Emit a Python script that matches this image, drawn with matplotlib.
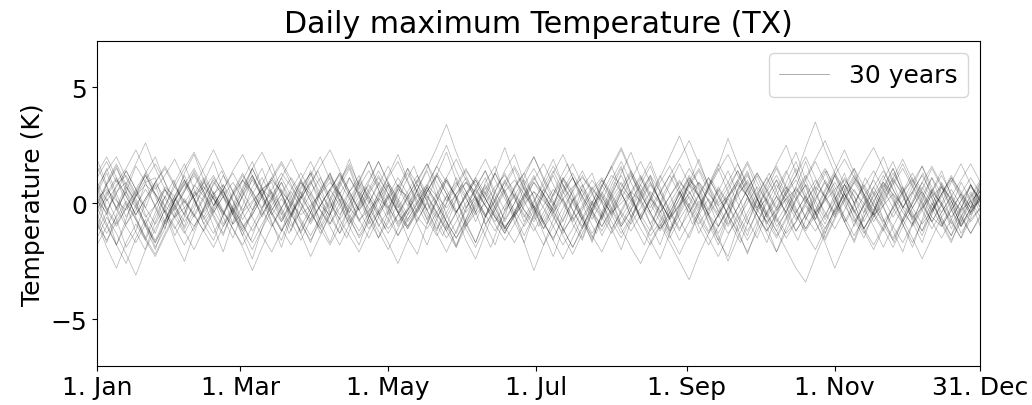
import numpy as np
import matplotlib
matplotlib.use("Agg")
import matplotlib.pyplot as plt

# Tick positions (day of year) and labels
tick_days = [0, 59, 120, 181, 243, 304, 364]
tick_labels = ["1. Jan", "1. Mar", "1. May", "1. Jul", "1. Sep", "1. Nov", "31. Dec"]
year_label = "30 years"

# Daily maximum temperature anomalies (K), sampled every 4 days, one list per year
y01 = [0.3, -0.5, 0.8, 1.2, 0.4, -0.2, 0.9, 1.5, 0.7, 0.1, -0.6, 0.2, 1.1, 0.5, -0.3, -1.1, -0.4, 0.6, 0.2, -0.8, -0.1, 0.7, 1.3,
       0.4, -0.2, 0.5, -0.7, -1.4, -0.6, 0.3, 0.9, 0.2, -0.5, 0.1, 0.8, 1.6, 0.9, 0.3, -0.4, 0.2, -0.9, -0.3, 0.5, 1.0, 0.4, -0.2,
       -0.9, -1.5, -0.7, 0.1, 0.6, -0.1, 0.4, 1.2, 0.8, 0.2, -0.5, -1.2, -0.4, 0.3, 0.9, 0.5, -0.2, 0.6, 1.4, 2.1, 1.2, 0.5, -0.3,
       0.2, -0.6, -1.3, -0.8, 0.1, 0.7, 0.3, -0.4, 0.4, 1.1, 0.6, -0.1, -0.8, -0.2, 0.5, 1.0, 0.3, -0.6, -1.0, -0.3, 0.4, -0.2, 0.1]
y02 = [-1.2, -0.4, -1.8, -2.6, -1.5, -0.7, -1.9, -1.1, 0.2, -0.5, 0.8, 0.3, -0.6, -1.4, -0.2, 0.7, 1.5, 0.6, -0.3, 0.4, -0.8, -1.6, -0.7,
       0.5, 1.3, 0.4, -0.4, 0.9, 1.8, 0.8, -0.1, -1.0, -0.3, 0.6, -0.5, -1.3, -2.1, -1.2, -0.2, 0.6, 1.4, 0.5, -0.3, 0.3, 1.1, 2.0,
       1.0, 0.1, -0.8, 0.2, -0.6, -1.5, -0.5, 0.4, 1.2, 0.3, -0.7, -1.6, -2.4, -1.3, -0.4, 0.5, -0.3, 0.8, 1.7, 0.9, 0.0, -0.9, 0.1,
       0.9, 1.6, 0.7, -0.2, -1.1, -0.4, 0.5, 1.3, 0.6, -0.4, -1.2, -2.0, -1.1, -0.1, 0.7, -0.2, 0.6, 1.5, 0.7, -0.3, -1.0, -0.4, 0.3]
y03 = [1.1, 1.8, 0.9, 1.5, 2.3, 1.4, 0.6, 1.2, 1.9, 1.0, 0.3, 0.9, 0.2, -0.5, 0.4, 1.0, 0.5, -0.2, 0.6, 1.3, 0.7, 0.0, -0.7,
       -0.1, 0.6, 1.2, 0.4, -0.3, 0.3, -0.4, -1.1, -0.5, 0.2, 0.8, 0.1, -0.6, 0.0, 0.7, 1.4, 0.8, 0.2, -0.5, -1.2, -0.6, 0.1, 0.9,
       0.4, -0.3, 0.5, 1.1, 0.3, -0.4, -1.0, -0.2, 0.6, 0.1, -0.7, -1.4, -0.8, 0.0, 0.7, 1.5, 0.8, 0.1, -0.6, 0.2, 0.9, 0.3, -0.5,
       -1.2, -0.4, 0.4, 1.0, 0.2, -0.5, 0.3, 1.2, 1.9, 1.1, 0.4, -0.3, 0.5, 1.3, 0.6, -0.2, -0.9, -0.3, 0.4, 1.1, 0.5, -0.2, 0.6]
y04 = [-0.8, -1.9, -2.8, -1.7, -0.9, -1.6, -0.6, 0.3, -0.4, -1.2, -2.0, -1.1, -0.3, 0.5, -0.2, -1.0, -0.5, 0.3, 1.1, 0.4, -0.4, -1.3, -2.3,
       -1.4, -0.5, 0.2, -0.6, -1.5, -0.8, 0.1, 0.8, 0.0, -0.8, -0.2, 0.6, -0.1, -1.0, -1.8, -0.9, 0.0, 0.7, -0.2, -1.1, -0.4, 0.4, 1.2,
       0.3, -0.5, -1.4, -2.2, -1.3, -0.4, 0.3, -0.5, -1.3, -0.6, 0.2, 0.9, 0.1, -0.7, -1.6, -0.8, 0.1, -0.6, -1.4, -2.5, -1.5, -0.6, 0.2,
       -0.5, -1.2, -0.3, 0.5, 1.2, 0.4, -0.4, -1.1, -0.3, 0.6, -0.2, -1.0, -1.9, -1.0, -0.2, 0.5, -0.3, -1.1, -0.4, 0.3, -0.5, -1.3, -0.6]
y05 = [0.2, 0.6, 0.1, -0.3, 0.3, 0.8, 0.4, -0.1, -0.6, -0.2, 0.3, 0.7, 0.2, -0.4, -0.9, -0.4, 0.1, 0.6, 1.0, 0.5, 0.0, -0.5, -0.1,
       0.4, 0.9, 0.4, -0.2, -0.7, -0.3, 0.2, -0.2, -0.8, -0.3, 0.3, 0.8, 0.3, -0.2, 0.4, 0.9, 0.5, -0.1, -0.6, -1.0, -0.5, 0.0, 0.5,
       0.1, -0.4, 0.2, 0.7, 1.1, 0.6, 0.1, -0.4, 0.0, 0.5, 0.1, -0.5, -1.1, -0.6, -0.1, 0.4, 0.9, 0.4, -0.1, 0.3, 0.8, 0.3, -0.3,
       -0.8, -0.3, 0.2, 0.6, 0.1, -0.4, 0.1, 0.6, 1.0, 0.5, 0.0, -0.5, -0.1, 0.4, -0.1, -0.6, -0.2, 0.3, 0.7, 0.2, -0.3, 0.1, 0.5]
y06 = [1.6, 0.7, -0.2, 0.8, 1.7, 2.6, 1.5, 0.6, -0.3, 0.5, 1.4, 0.5, -0.5, -1.3, -0.4, 0.6, 1.5, 2.2, 1.3, 0.4, -0.5, 0.3, 1.2,
       2.0, 1.0, 0.1, -0.8, 0.0, 0.9, 1.8, 0.8, -0.1, -1.0, -0.2, 0.7, 1.6, 2.5, 1.4, 0.5, -0.4, 0.4, 1.3, 0.4, -0.5, -1.4, -0.5,
       0.4, 1.3, 2.1, 1.1, 0.2, -0.7, 0.1, 1.0, 1.8, 0.9, 0.0, -0.9, -0.1, 0.8, 1.7, 0.8, -0.1, 0.7, 1.6, 2.8, 1.7, 0.7, -0.2,
       0.6, 1.5, 0.6, -0.3, -1.1, -0.3, 0.6, 1.4, 2.3, 1.3, 0.4, -0.5, 0.3, 1.1, 1.9, 1.0, 0.1, -0.8, 0.0, 0.9, 1.7, 0.8, 0.0]
y07 = [-0.5, -1.3, -0.6, 0.1, -0.7, -1.6, -2.3, -1.4, -0.6, 0.1, -0.5, -1.2, -0.4, 0.3, 0.9, 0.2, -0.6, -1.4, -2.1, -1.2, -0.4, 0.3, -0.4,
       -1.1, -1.8, -1.0, -0.2, 0.5, -0.2, -0.9, -1.7, -2.6, -1.6, -0.7, 0.0, -0.7, -1.5, -0.8, 0.0, 0.6, -0.1, -0.9, -1.6, -0.9, -0.1, 0.5,
       -0.2, -1.0, -1.8, -1.1, -0.3, 0.4, 1.0, 0.3, -0.5, -1.2, -0.5, 0.2, -0.6, -1.4, -2.2, -1.3, -0.5, 0.2, -0.5, -1.3, -0.7, 0.0, 0.7,
       0.1, -0.7, -1.5, -0.8, -0.1, -0.8, -1.7, -2.8, -1.8, -0.9, -0.1, 0.5, -0.2, -1.0, -1.7, -0.9, -0.1, 0.6, -0.1, -0.8, -1.5, -0.7, -0.2]
y08 = [-0.1, 0.9, 1.7, 0.8, 0.0, -0.9, -1.7, -0.8, 0.1, 0.9, 0.2, -0.6, 0.3, 1.2, 0.5, -0.4, -1.2, -0.5, 0.3, 1.1, 1.9, 1.0, 0.1,
       -0.7, 0.1, 0.9, 0.2, -0.7, -1.5, -0.6, 0.3, 1.1, 0.4, -0.4, 0.5, 1.3, 0.6, -0.3, -1.1, -1.9, -1.0, -0.1, 0.7, 1.5, 0.6, -0.2,
       0.6, 1.4, 0.5, -0.3, -1.0, -0.2, 0.7, 1.6, 2.4, 1.4, 0.5, -0.4, -1.2, -0.4, 0.4, 1.2, 0.4, -0.5, -1.3, -0.5, 0.3, 1.0, 0.2,
       -0.6, -1.4, -0.6, 0.2, 1.0, 1.8, 0.9, 0.0, -0.8, 0.0, 0.8, 0.1, -0.7, -1.5, -0.7, 0.1, 0.9, 1.6, 0.8, -0.1, -0.9, -0.3, 0.4]
y09 = [0.5, -0.3, -1.0, -0.2, 0.6, 1.3, 0.4, -0.4, 0.3, 1.0, 0.2, -0.6, -1.3, -0.5, 0.3, 1.0, 0.3, -0.5, 0.2, 0.9, 0.1, -0.7, -1.4,
       -0.6, 0.2, 1.0, 1.7, 0.8, 0.0, 0.8, 1.6, 0.7, -0.1, 0.6, 1.5, 2.4, 3.4, 2.2, 1.2, 0.3, -0.5, 0.2, 1.0, 0.3, -0.5, -1.2,
       -0.4, 0.4, 1.1, 0.3, -0.5, -1.3, -0.6, 0.2, 0.9, 0.2, -0.6, 0.1, 0.9, 1.6, 0.7, -0.1, -0.9, -0.2, 0.6, -0.1, -0.8, -1.6, -0.8,
       0.0, 0.8, 0.1, -0.7, 0.0, 0.8, 1.5, 0.7, -0.1, -0.8, -0.1, 0.7, 1.4, 0.6, -0.2, -1.0, -0.3, 0.5, 1.2, 0.4, -0.4, 0.3, 1.0]
y10 = [-1.5, -0.6, -1.3, -2.2, -3.1, -2.0, -1.1, -0.3, -1.0, -1.8, -1.0, -0.2, 0.5, -0.3, -1.1, -1.9, -2.9, -1.9, -1.0, -0.2, 0.5, -0.2, -0.9,
       -0.1, 0.6, 1.3, 0.5, -0.3, -1.1, -0.4, 0.4, -0.3, -1.0, -0.3, 0.5, 1.2, 0.4, -0.4, 0.3, 1.0, 0.2, -0.6, -1.3, -0.5, 0.3, 1.1,
       0.4, -0.4, -1.1, -1.9, -1.0, -0.2, 0.5, -0.2, -1.0, -0.3, 0.5, 1.2, 0.5, -0.3, -1.1, -0.4, 0.4, 1.1, 0.3, -0.5, -1.3, -2.1, -1.2,
       -0.4, 0.3, -0.4, -1.2, -0.5, 0.2, 0.9, 0.2, -0.6, -1.4, -0.6, 0.1, 0.8, 0.1, -0.7, -1.5, -2.4, -1.5, -0.6, 0.1, -0.6, -1.3, -0.5]
y11 = [0.9, 0.1, 0.7, 1.4, 0.6, -0.2, -0.9, -0.1, 0.7, 1.5, 2.2, 1.3, 0.4, -0.4, 0.4, 1.2, 0.5, -0.3, -1.0, -0.2, 0.6, 1.3, 0.5,
       -0.3, -1.0, -1.8, -0.9, -0.1, 0.6, 1.4, 0.6, -0.2, 0.5, 1.2, 0.4, -0.4, -1.1, -0.4, 0.4, 1.1, 1.9, 1.0, 0.2, -0.6, 0.2, 0.9,
       0.2, -0.6, -1.3, -0.5, 0.3, 1.0, 0.3, -0.5, 0.2, 1.0, 1.8, 0.9, 0.1, -0.7, -0.1, 0.7, 1.4, 0.5, -0.3, -1.0, -0.2, 0.6, 1.3,
       0.6, -0.2, 0.5, 1.2, 2.0, 1.1, 0.2, -0.6, 0.2, 1.0, 0.3, -0.5, -1.2, -0.4, 0.4, 1.1, 0.4, -0.4, 0.3, 1.0, 0.2, -0.5, 0.2]
y12 = [-0.3, 0.5, -0.2, -1.0, -1.7, -0.9, -0.1, 0.6, -0.1, -0.8, -0.1, 0.6, 1.2, 0.4, -0.4, 0.3, 1.0, 0.3, -0.5, -1.2, -0.5, 0.2, 0.9,
       0.2, -0.6, -1.3, -0.6, 0.1, 0.8, 0.1, -0.7, -1.4, -0.7, 0.0, 0.7, 0.0, -0.8, -1.5, -0.8, -0.1, 0.6, 1.3, 0.5, -0.3, -1.0, -0.3,
       0.4, -0.3, -1.1, -1.9, -1.1, -0.3, 0.4, -0.3, -1.1, -1.9, -2.6, -1.7, -0.9, -1.7, -2.5, -3.3, -2.2, -1.3, -0.5, 0.2, -0.5, -1.2, -0.4,
       0.3, 1.0, 0.3, -0.5, -1.2, -0.5, 0.2, 0.9, 0.2, -0.6, -1.3, -0.6, 0.1, 0.8, 1.5, 0.7, -0.1, -0.8, -0.1, 0.6, -0.1, -0.8, -0.2]
y13 = [1.3, 2.0, 1.1, 0.3, -0.5, 0.2, 0.9, 1.6, 0.8, 0.0, 0.7, 1.5, 2.3, 1.4, 0.5, -0.3, 0.4, 1.1, 0.3, -0.5, 0.3, 1.0, 1.8,
       0.9, 0.1, -0.7, 0.0, 0.7, 1.4, 0.6, -0.2, 0.6, 1.3, 0.5, -0.3, 0.4, 1.1, 1.9, 1.0, 0.2, -0.6, 0.1, 0.9, 0.2, -0.6, 0.1,
       0.8, 1.6, 0.8, 0.0, -0.7, 0.0, 0.8, 1.5, 2.3, 1.3, 0.4, -0.4, 0.4, 1.2, 0.4, -0.4, 0.3, 1.1, 0.3, -0.5, -1.2, -0.4, 0.4,
       1.1, 0.3, -0.4, 0.4, 1.1, 1.9, 2.7, 1.7, 0.8, 0.0, 0.7, 1.4, 0.6, -0.2, 0.5, 1.3, 0.5, -0.3, 0.4, 1.2, 0.4, -0.4, 0.3]
y14 = [-0.9, -1.6, -0.8, 0.0, -0.7, -1.5, -2.2, -1.3, -0.5, 0.2, -0.5, -1.2, -1.9, -1.0, -0.2, -0.9, -1.7, -0.9, -0.1, 0.6, -0.1, -0.9, -1.6,
       -0.8, 0.0, -0.7, -1.4, -2.1, -1.2, -0.4, 0.3, -0.4, -1.1, -0.4, 0.3, -0.4, -1.2, -1.9, -1.0, -0.2, 0.5, -0.2, -1.0, -1.7, -0.9, -0.1,
       -0.8, -1.6, -2.4, -1.5, -0.6, 0.1, -0.6, -1.3, -0.6, 0.1, 0.8, 0.0, -0.8, -1.5, -0.7, 0.0, -0.7, -1.5, -2.3, -1.4, -0.5, 0.2, -0.5,
       -1.2, -0.5, 0.2, -0.5, -1.3, -2.0, -1.1, -0.3, 0.4, -0.3, -1.1, -1.8, -1.0, -0.2, -0.9, -1.7, -0.8, 0.0, -0.7, -1.4, -0.6, 0.1, -0.6]
y15 = [0.0, 0.8, 1.5, 0.7, -0.1, -0.9, -1.6, -0.7, 0.1, 0.8, 0.1, -0.7, -0.1, 0.6, 1.4, 2.1, 1.2, 0.3, -0.5, 0.2, -0.5, -1.2, -0.4,
       0.4, 1.1, 0.3, -0.5, -1.2, -0.4, 0.4, 1.1, 1.8, 0.9, 0.1, -0.7, -1.4, -0.6, 0.2, 0.9, 0.2, -0.6, 0.1, 0.9, 1.6, 0.8, -0.1,
       -0.8, 0.0, 0.8, 0.1, -0.7, -1.4, -2.1, -1.2, -0.3, 0.5, 1.2, 0.4, -0.4, 0.3, 1.0, 0.2, -0.6, -1.3, -0.5, 0.3, 1.0, 1.8, 0.9,
       0.0, -0.8, -0.1, 0.7, 0.0, -0.8, -1.6, -0.7, 0.1, 0.9, 0.2, -0.6, 0.2, 0.9, 1.7, 0.8, 0.0, -0.8, -1.5, -0.7, 0.1, 0.8, 0.1]
y16 = [-0.4, 0.3, 1.0, 0.3, -0.5, 0.2, 0.9, 0.2, -0.6, -1.3, -0.5, 0.3, 1.0, 0.3, -0.5, -1.2, -0.5, 0.3, 1.0, 1.7, 0.8, 0.0, -0.8,
       -0.1, 0.6, -0.1, -0.9, -0.2, 0.5, 1.2, 0.4, -0.4, -1.1, -0.3, 0.5, 1.2, 0.4, -0.4, 0.3, 1.0, 0.2, -0.6, -1.3, -0.5, 0.3, 1.0,
       1.7, 0.8, 0.0, -0.8, -0.1, 0.7, 0.0, -0.8, -1.5, -0.7, 0.1, 0.8, 0.1, -0.7, 0.0, 0.8, 1.5, 0.7, -0.1, -0.9, -0.2, 0.6, 1.3,
       0.5, -0.3, 0.4, 1.2, 2.4, 3.5, 2.3, 1.3, 0.4, -0.4, 0.3, 1.0, 0.2, -0.6, 0.1, 0.9, 1.6, 0.7, -0.1, -0.9, -0.2, 0.5, -0.2]
y17 = [0.6, -0.2, -0.9, -0.2, 0.5, 1.2, 0.4, -0.4, -1.1, -0.4, 0.4, 1.1, 0.4, -0.4, -1.1, -1.8, -1.0, -0.2, 0.5, -0.2, -1.0, -0.3, 0.4,
       1.1, 0.3, -0.5, 0.2, 0.9, 0.2, -0.6, -1.3, -0.5, 0.3, 1.0, 0.3, -0.5, -1.2, -0.4, 0.4, 1.1, 0.4, -0.4, -1.1, -0.4, 0.4, -0.3,
       -1.1, -0.4, 0.4, 1.1, 0.3, -0.5, -1.2, -0.4, 0.4, -0.3, -1.1, -1.8, -1.0, -0.2, 0.5, -0.2, -1.0, -1.8, -1.0, -0.2, 0.5, 1.2, 0.4,
       -0.4, -1.2, -2.0, -2.8, -3.4, -2.3, -1.3, -0.4, 0.4, -0.3, -1.1, -0.4, 0.4, 1.1, 0.3, -0.5, -1.2, -0.4, 0.4, 1.1, 0.3, -0.4, 0.2]
y18 = [-1.8, -1.0, -0.2, 0.5, -0.2, -1.0, -1.7, -0.9, -0.1, 0.6, 1.3, 0.5, -0.3, -1.0, -0.3, 0.5, 1.2, 0.4, -0.4, -1.1, -1.8, -1.0, -0.2,
       0.5, 1.2, 0.4, -0.4, 0.3, 1.0, 1.8, 0.9, 0.1, -0.7, 0.0, 0.7, 0.0, -0.8, -1.5, -0.7, 0.1, 0.8, 0.1, -0.7, 0.0, 0.8, 1.5,
       0.7, -0.1, 0.6, 1.3, 0.5, -0.3, -1.0, -0.3, 0.5, 1.2, 0.4, -0.4, -1.1, -0.4, 0.4, 1.1, 0.3, -0.5, 0.2, 0.9, 1.7, 0.8, 0.0,
       -0.8, -1.5, -0.7, 0.1, 0.8, 0.1, -0.7, 0.0, 0.8, 1.5, 0.7, -0.1, -0.9, -1.6, -0.8, 0.0, 0.7, 0.0, -0.8, -1.6, -0.8, 0.0, 0.7]
y19 = [0.7, 1.4, 2.0, 1.1, 0.3, 1.0, 1.7, 0.9, 0.1, 0.8, 1.5, 0.7, -0.1, 0.6, 1.3, 0.5, -0.3, 0.4, 1.1, 1.8, 1.0, 0.2, 0.9,
       1.6, 2.3, 1.4, 0.5, -0.3, 0.4, 1.1, 0.4, -0.4, 0.3, 1.0, 1.7, 0.9, 0.1, 0.8, 1.5, 0.7, -0.1, -0.8, -0.1, 0.6, 1.3, 2.0,
       1.1, 0.3, 1.0, 1.7, 0.8, 0.0, -0.7, 0.0, 0.7, 1.4, 0.6, -0.2, 0.5, 1.2, 1.9, 2.7, 1.7, 0.8, 0.0, 0.7, 1.4, 0.6, -0.2,
       0.5, 1.2, 0.4, -0.4, 0.3, 1.0, 0.3, -0.5, 0.2, 0.9, 1.7, 2.4, 1.5, 0.6, -0.2, 0.5, 1.2, 0.4, -0.4, 0.3, 1.0, 1.7, 0.9]
y20 = [-0.2, -1.0, -1.8, -0.9, -0.1, 0.6, -0.1, -0.9, -0.2, 0.5, 1.2, 0.4, -0.4, 0.3, -0.4, -1.2, -2.0, -1.1, -0.3, 0.4, 1.1, 0.4, -0.4,
       -1.1, -0.4, 0.4, 1.1, 0.3, -0.5, -1.2, -2.0, -1.1, -0.3, 0.4, -0.3, -1.1, -0.4, 0.4, 1.1, 0.3, -0.5, -1.2, -0.4, 0.4, -0.3, -1.0,
       -1.8, -1.0, -0.2, 0.5, 1.2, 0.4, -0.4, -1.1, -0.4, 0.4, 1.1, 0.3, -0.5, -1.2, -0.5, 0.3, -0.4, -1.2, -0.5, 0.3, 1.0, 0.3, -0.5,
       -1.3, -2.1, -1.2, -0.4, 0.3, -0.4, -1.1, -0.3, 0.5, 1.2, 0.4, -0.4, -1.1, -1.9, -1.0, -0.2, 0.5, -0.2, -1.0, -0.3, 0.4, 1.1, 0.4]
y21 = [0.4, 1.3, 0.2, -0.9, -0.3, 0.9, 1.1, -0.2, -1.4, -0.6, 0.5, 0.1, -1.0, -2.1, -0.8, 0.4, 1.5, 0.6, 0.9, -0.3, -1.2, 0.2, 1.0,
       -0.1, -0.5, 0.8, 1.9, 0.7, -0.4, -1.5, -0.7, 0.6, 0.3, -0.8, 0.1, 1.2, 2.2, 1.0, -0.2, 0.3, -0.9, -1.8, -0.6, 0.7, 1.3, 0.2,
       -0.9, -0.2, 1.1, 0.5, -0.6, -1.7, -0.4, 0.8, 1.6, 0.4, -0.7, 0.2, -0.3, -1.3, -0.1, 1.0, 0.6, -0.5, -1.6, -2.3, -1.0, 0.3, 1.2,
       0.1, -1.0, -0.4, 0.7, 1.8, 0.6, -0.6, 0.4, 1.3, 0.0, -1.1, -0.3, 0.9, 0.2, -0.9, -1.9, -0.7, 0.5, 1.4, 0.3, -0.8, 0.2, 0.9]
y22 = [-1.1, 0.2, -0.7, -1.9, -1.2, 0.1, 0.8, -0.4, -1.6, -2.5, -1.3, -0.2, 0.9, 0.3, -0.9, -0.1, 1.1, 0.4, -0.8, -1.9, -0.6, 0.5, -0.2,
       -1.3, -0.5, 0.7, 1.5, 0.3, -0.9, -0.3, 0.8, -0.4, -1.5, -2.2, -0.9, 0.3, 1.1, 0.2, -1.0, -0.4, 0.9, 1.6, 0.4, -0.8, -1.7, -0.5,
       0.6, 0.0, -1.2, -0.6, 0.7, 1.3, 0.1, -1.1, -2.0, -0.8, 0.4, 1.2, 0.0, -1.2, -0.3, 0.9, 0.3, -0.9, -1.8, -0.7, 0.6, 1.4, 0.2,
       -1.0, -2.1, -1.0, 0.2, 0.8, -0.4, -1.5, -0.6, 0.6, 1.5, 0.3, -0.8, -0.1, 1.0, 0.4, -0.8, -1.7, -0.5, 0.7, -0.2, -1.3, -0.6, 0.4]
y23 = [1.9, 0.8, -0.3, 0.5, 1.6, 0.9, -0.2, -1.1, 0.1, 1.3, 2.1, 1.0, -0.1, 0.6, -0.5, -1.4, -0.3, 0.8, 1.7, 0.5, -0.6, 0.3, 1.4,
       0.7, -0.4, -1.3, -0.1, 1.0, 1.8, 0.6, -0.5, 0.4, 1.5, 0.8, -0.3, -1.2, 0.0, 1.1, 0.3, -0.8, 0.2, 1.3, 2.4, 1.2, 0.1, -0.7,
       0.4, 1.2, 0.2, -0.9, -1.6, -0.4, 0.7, 1.6, 0.5, -0.6, 0.3, 1.1, 0.0, -1.1, -0.2, 0.9, 1.9, 0.7, -0.4, 0.5, 1.4, 0.3, -0.8,
       -1.7, -0.5, 0.6, 1.5, 0.4, -0.7, 0.2, 1.2, 0.1, -1.0, 0.0, 1.1, 2.0, 0.9, -0.2, 0.7, 1.6, 0.5, -0.6, -1.4, -0.2, 0.8, 0.1]
y24 = [-0.6, -1.7, -0.5, 0.7, 0.1, -1.0, -2.0, -0.8, 0.3, 1.2, 0.2, -0.9, -0.2, 0.8, -0.3, -1.4, -2.4, -1.1, 0.1, 0.9, -0.2, -1.3, -0.4,
       0.6, 1.3, 0.1, -1.0, -1.8, -0.6, 0.5, -0.3, -1.4, -0.5, 0.6, 1.4, 0.3, -0.8, -1.9, -0.7, 0.4, 1.1, 0.0, -1.1, -0.4, 0.7, -0.2,
       -1.3, -2.3, -1.1, 0.1, 0.8, -0.3, -1.4, -0.6, 0.5, 1.3, 0.2, -0.9, -1.8, -0.6, 0.5, -0.2, -1.3, -0.4, 0.7, 0.0, -1.1, -2.2, -1.0,
       0.2, 1.0, -0.1, -1.2, -0.5, 0.6, 1.4, 0.3, -0.8, -1.6, -0.4, 0.7, -0.1, -1.2, -2.1, -0.9, 0.3, 1.1, 0.0, -1.1, -0.3, 0.8, -0.2]
y25 = [0.1, -0.4, 0.5, 0.9, 0.2, -0.6, -0.1, 0.7, 0.3, -0.5, -1.0, -0.3, 0.4, 0.8, 0.1, -0.7, 0.0, 0.6, -0.2, -0.8, 0.1, 0.9, 0.4,
       -0.3, -0.9, -0.2, 0.5, 1.0, 0.3, -0.5, 0.2, 0.8, 0.1, -0.6, -1.1, -0.4, 0.3, 0.9, 0.2, -0.5, 0.0, 0.7, 1.2, 0.5, -0.3, -0.8,
       -0.1, 0.6, 0.1, -0.7, -0.2, 0.6, 1.1, 0.4, -0.4, -0.9, -0.2, 0.5, 0.0, -0.6, 0.2, 0.8, 0.3, -0.5, -1.0, -0.3, 0.4, 0.9, 0.2,
       -0.6, 0.1, 0.7, 0.2, -0.6, -1.2, -0.5, 0.2, 0.8, 0.3, -0.4, 0.3, 0.9, 0.4, -0.4, -0.9, -0.2, 0.5, 0.0, -0.6, 0.1, 0.7, 0.2]
y26 = [0.8, -0.3, 0.4, 1.4, 0.6, -0.5, -1.3, -0.2, 0.9, 1.7, 0.6, -0.4, 0.3, -0.6, -1.5, -0.4, 0.7, 1.5, 0.4, -0.7, 0.0, 1.0, 0.3,
       -0.8, -1.7, -0.6, 0.5, 1.2, 0.1, -1.0, -0.3, 0.8, 0.2, -0.9, -1.8, -0.7, 0.3, -0.5, -1.6, -2.4, -1.3, -0.2, 0.6, -0.5, -1.7, -2.9,
       -1.8, -0.7, 0.2, -0.6, -1.5, -0.3, 0.8, 0.1, -1.0, -0.3, 0.8, 1.6, 0.5, -0.6, 0.2, 1.1, 0.3, -0.8, -1.6, -0.5, 0.6, 1.3, 0.2,
       -0.9, -0.2, 0.9, 1.8, 0.7, -0.4, -1.3, -0.2, 0.8, 0.0, -1.1, -0.4, 0.7, 1.5, 0.4, -0.7, 0.1, 1.1, 0.4, -0.7, -1.5, -0.4, 0.6]
y27 = [-0.3, 0.8, 1.6, 0.5, -0.6, -1.5, -0.4, 0.6, 0.0, -1.1, -0.3, 0.9, 1.8, 0.6, -0.5, 0.3, 1.2, 0.2, -0.9, -1.6, -0.5, 0.6, 1.3,
       0.2, -0.9, 0.0, 1.1, 0.4, -0.7, -1.5, -0.4, 0.7, 1.5, 0.4, -0.7, 0.1, 1.0, 0.3, -0.8, -1.7, -0.6, 0.5, 1.4, 2.1, 0.9, -0.2,
       -1.1, -0.1, 1.0, 0.3, -0.8, -1.6, -0.5, 0.6, 1.5, 0.4, -0.7, 0.2, 1.2, 0.4, -0.7, -1.5, -0.4, 0.7, 1.5, 0.5, -0.6, -1.4, -0.3,
       0.8, 1.7, 2.5, 1.3, 0.2, -0.7, 0.3, 1.2, 0.4, -0.7, -1.5, -0.4, 0.6, 1.5, 0.5, -0.6, -1.4, -0.3, 0.8, 0.1, -1.0, -0.2, 0.9]
y28 = [0.2, -0.9, -1.8, -0.7, 0.4, 1.2, 0.3, -0.8, 0.1, 1.0, 0.2, -0.9, -1.6, -0.5, 0.5, 1.3, 0.4, -0.6, 0.2, 1.1, 0.3, -0.8, -1.7,
       -0.6, 0.5, 1.3, 0.3, -0.8, 0.0, 0.9, 0.2, -0.9, -0.2, 0.9, 1.7, 0.6, -0.5, -1.3, -0.3, 0.7, 1.4, 0.3, -0.8, 0.0, 1.0, 0.3,
       -0.8, -1.6, -0.5, 0.6, 1.4, 0.5, -0.6, 0.3, 1.3, 2.2, 1.1, 0.2, 1.1, 2.0, 2.9, 1.8, 0.7, -0.3, 0.5, 1.4, 0.4, -0.7, -1.5,
       -0.4, 0.6, 1.4, 0.4, -0.7, 0.1, 1.0, 0.3, -0.8, -1.7, -0.6, 0.4, 1.2, 0.3, -0.8, 0.0, 0.9, 0.2, -0.9, -1.7, -0.6, 0.4, -0.4]
y29 = [-0.7, 0.4, 1.1, 0.0, -1.2, -2.0, -0.9, 0.2, 1.0, -0.1, -1.2, -0.4, 0.7, 1.4, 0.3, -0.8, -1.6, -0.5, 0.6, -0.2, -1.3, -0.5, 0.6,
       1.4, 0.4, -0.7, -1.5, -0.4, 0.7, 0.0, -1.1, -0.3, 0.8, 1.6, 0.5, -0.6, -1.4, -0.3, 0.8, 0.1, -1.0, -1.9, -0.8, 0.3, 1.1, 0.1,
       -1.0, -0.2, 0.9, 1.7, 0.6, -0.5, -1.3, -0.2, 0.9, 0.1, -1.0, -1.8, -0.7, 0.4, 1.2, 0.2, -0.9, -0.1, 1.0, 0.2, -0.9, -1.7, -0.6,
       0.5, 1.3, 0.3, -0.8, -1.6, -0.5, 0.6, 1.4, 0.3, -0.8, 0.0, 1.1, 0.3, -0.8, -1.7, -0.6, 0.5, 1.3, 0.2, -0.9, -0.1, 0.9, 0.1, -1.0]
y30 = [0.5, 1.5, 0.4, -0.6, 0.3, 1.3, 2.0, 0.9, -0.2, -1.0, 0.1, 1.0, 0.2, -0.9, -0.1, 1.0, 1.8, 0.7, -0.4, -1.2, -0.1, 0.9, 0.1,
       -1.0, -0.2, 0.9, 1.6, 0.5, -0.6, 0.2, 1.2, 2.1, 1.0, -0.1, -0.9, 0.1, 1.0, 0.2, -0.9, -1.7, -0.6, 0.5, 1.3, 0.3, -0.8, 0.0,
       1.0, 1.9, 0.8, -0.3, -1.1, 0.0, 1.0, 0.2, -0.9, -0.1, 1.0, 1.8, 0.7, -0.4, -1.2, -0.1, 0.9, 0.1, -1.0, -0.2, 0.9, 1.7, 0.6,
       -0.5, 0.3, 1.3, 2.2, 1.0, -0.1, -0.9, 0.1, 1.1, 0.3, -0.8, 0.0, 1.0, 1.8, 0.7, -0.4, -1.2, -0.1, 0.9, 0.1, -1.0, -0.2, 0.8]

years = [y01, y02, y03, y04, y05, y06, y07, y08, y09, y10,
         y11, y12, y13, y14, y15, y16, y17, y18, y19, y20,
         y21, y22, y23, y24, y25, y26, y27, y28, y29, y30]

plt.rcParams['font.family'] = ['DejaVu Sans']
plt.rcParams['font.size'] = 18

fig = plt.figure(figsize=(10.32, 4.06), dpi=100)
ax = fig.add_axes([0.094, 0.097, 0.856, 0.800])

for i, y in enumerate(years):
    x = np.linspace(tick_days[0], tick_days[-1], len(y))
    ax.plot(x, y, color='k', alpha=0.3, lw=0.5,
            label=year_label if i == 0 else None)

ax.set_xlim(tick_days[0], tick_days[-1])
ax.set_ylim(-7, 7)
ax.set_xticks(tick_days)
ax.set_xticklabels(tick_labels)
ax.set_yticks([-5, 0, 5])
ax.set_yticklabels(['\u22125', '0', '5'])
ax.set_ylabel("Temperature (K)")
ax.set_title("Daily maximum Temperature (TX)", fontsize=21.6)
leg = ax.legend(loc='upper right', fontsize=18)
for lh in leg.get_lines():
    lh.set_alpha(0.45)

fig.savefig("out.png", dpi=100)
